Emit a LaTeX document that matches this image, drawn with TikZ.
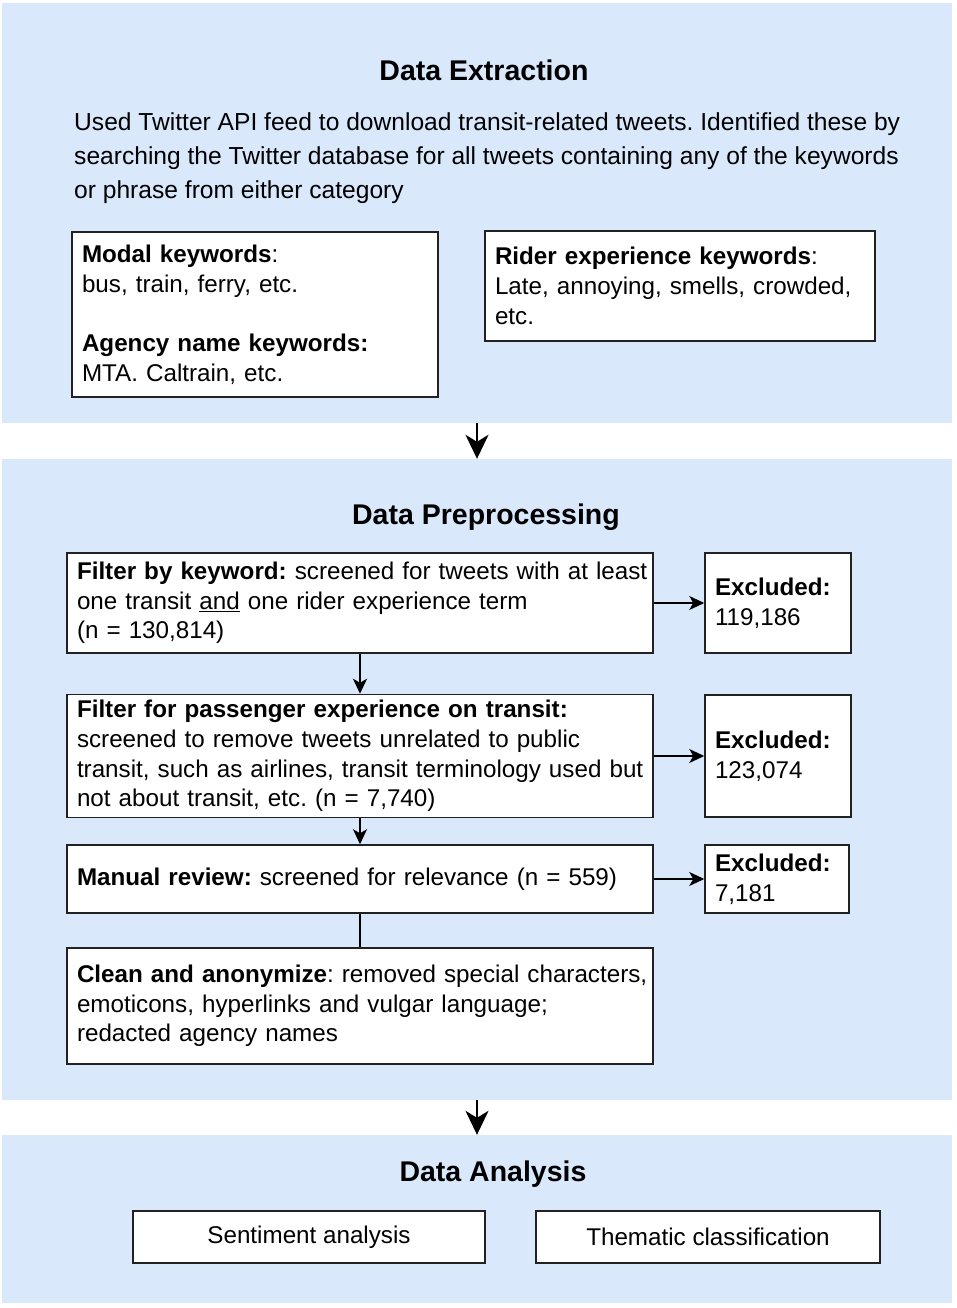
\documentclass[tikz,border=0pt]{standalone}
\usepackage{fontspec}
\setmainfont{Liberation Sans}
\usetikzlibrary{arrows.meta}

\definecolor{panelblue}{HTML}{DAE8FC}
\definecolor{boxline}{HTML}{222222}

\tikzset{
  panel/.style = {fill=panelblue, minimum width=950pt, inner sep=0pt},
  heading/.style = {font=\fontsize{28.5}{32}\selectfont\bfseries},
  box/.style = {draw=boxline, line width=1.5pt, fill=white, align=left, inner xsep=10pt, inner ysep=0pt, font=\fontsize{24.2}{29.7}\selectfont\frenchspacing},
  stage/.style = {line width=2pt, -{Stealth[length=24pt, width=23pt, inset=7pt]}}
}

\begin{document}
\begin{tikzpicture}[x=1pt, y=-1pt, >={Stealth[length=15pt, width=14pt, inset=4pt]}]
    \useasboundingbox (0,0) rectangle (956,1308);

    % the three stages
    \node [panel, minimum height=420pt] (extract) at (477,213) {};
    \node [panel, minimum height=641pt] (prep) at (477,779.5) {};
    \node [panel, minimum height=168pt] (analysis) at (477,1219) {};
    \draw [stage] (extract.south) -- (prep.north);
    \draw [stage] (prep.south) -- (analysis.north);

    % data extraction
    \node [heading] (exttitle) at (484,70) {Data Extraction};
    \node [anchor=north west, inner sep=0pt, align=left, font=\fontsize{24.6}{34}\selectfont\frenchspacing] (exttext) at (74,112) {Used Twitter API feed to download transit-related tweets. Identified these by\\searching the Twitter database for all tweets containing any of the keywords\\or phrase from either category};
    \node [box, text width=346pt, minimum height=165pt] (modal) at (255,314.5) {\textbf{Modal keywords}:\\bus, train, ferry, etc.\\~\\\textbf{Agency name keywords:}\\MTA. Caltrain, etc.};
    \node [box, text width=370pt, minimum height=110pt] (rider) at (680,286) {\textbf{Rider experience keywords}:\\Late, annoying, smells, crowded,\\etc.};

    % data preprocessing
    \node [heading] (preptitle) at (486,517) {Data Preprocessing};
    \node [box, text width=566pt, minimum height=100pt] (kw) at (360,603) {\mbox{\textbf{Filter by keyword:} screened for tweets with at least}\\one transit \underline{and} one rider experience term\\(n = 130,814)};
    \node [box, text width=566pt, minimum height=123pt] (pax) at (360,756) {\textbf{Filter for passenger experience on transit:}\\screened to remove tweets unrelated to public\\\mbox{transit, such as airlines, transit terminology used but}\\not about transit, etc. (n = 7,740)};
    \node [box, text width=566pt, minimum height=68pt] (manual) at (360,879) {\textbf{Manual review:} screened for relevance (n = 559)};
    \node [box, text width=566pt, minimum height=116pt] (clean) at (360,1006) {\mbox{\textbf{Clean and anonymize}: removed special characters,}\\emoticons, hyperlinks and vulgar language;\\redacted agency names};

    \node [box, text width=126pt, minimum height=100pt] (ex1) at (778,603) {\textbf{Excluded:}\\119,186};
    \node [box, text width=126pt, minimum height=122pt] (ex2) at (778,756) {\textbf{Excluded:}\\123,074};
    \node [box, text width=124pt, minimum height=68pt] (ex3) at (777,879) {\textbf{Excluded:}\\7,181};

    \draw [line width=1.5pt, ->] (kw) -- (pax);
    \draw [line width=1.5pt, ->] (pax) -- (manual);
    \draw [line width=1.5pt] (manual) -- (clean);
    \foreach \from/\to in {kw/ex1, pax/ex2, manual/ex3} {
      \draw [line width=1.5pt, ->] (\from.east) -- (\to.west);
    }

    % data analysis
    \node [heading] (antitle) at (493,1174) {Data Analysis};
    \node [box, align=center, minimum width=352pt, minimum height=52pt] (sentiment) at (309,1237) {Sentiment analysis};
    \node [box, align=center, minimum width=344pt, minimum height=52pt] (thematic) at (708,1237) {Thematic classification};
\end{tikzpicture}
\end{document}
